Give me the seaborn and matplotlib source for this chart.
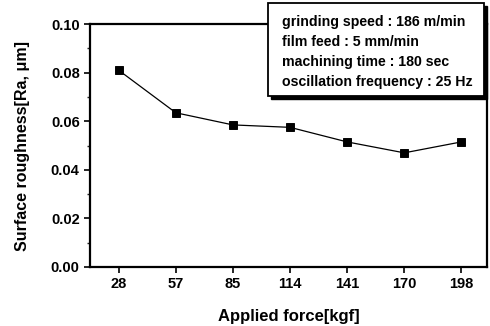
import matplotlib
matplotlib.use("Agg")
import matplotlib.pyplot as plt
import seaborn as sns
import pandas as pd
from matplotlib.patches import Rectangle
from matplotlib.ticker import MultipleLocator

# data
forces = ["28", "57", "85", "114", "141", "170", "198"]
roughness = [0.081, 0.0635, 0.0585, 0.0575, 0.0515, 0.047, 0.0515]

conditions = ["grinding speed : 186 m/min",
              "film feed : 5 mm/min",
              "machining time : 180 sec",
              "oscillation frequency : 25 Hz"]

df = pd.DataFrame({"force": forces, "ra": roughness})

sns.set_style("ticks")
plt.rcParams["font.family"] = ["Liberation Sans", "DejaVu Sans"]
plt.rcParams["font.weight"] = "bold"
plt.rcParams["text.color"] = "black"
plt.rcParams["axes.labelcolor"] = "black"

W, H = 490, 326
fig = plt.figure(figsize=(W / 100, H / 100), dpi=100)
ax = fig.add_axes([0.184, 0.181, 0.81, 0.745])

sns.pointplot(data=df, x="force", y="ra", color="black", marker="s",
              markersize=6, linewidth=0.9, ax=ax)

ax.set_xlim(-0.5, 6.45)
ax.set_ylim(0, 0.10)
ax.yaxis.set_major_locator(MultipleLocator(0.02))
ax.yaxis.set_minor_locator(MultipleLocator(0.01))
ax.set_yticklabels([f"{v:.2f}" for v in ax.get_yticks()])
ax.tick_params(axis="both", which="major", direction="out", length=4,
               width=1.2, labelsize=10.5, colors="black")
ax.tick_params(axis="y", which="minor", direction="out", length=2, width=1)
for lab in ax.get_xticklabels() + ax.get_yticklabels():
    lab.set_fontweight("bold")

for s in ax.spines.values():
    s.set_linewidth(1.6)
    s.set_color("black")

ax.set_xlabel("Applied force[kgf]", fontsize=12, fontweight="bold", labelpad=12.5)
ax.set_ylabel("Surface roughness[Ra, \u03bcm]", fontsize=11.5, fontweight="bold", labelpad=15)

# condition box (sits over the top of the axes) with a drop shadow
bx, by, bw, bh = 268, 3, 216, 93  # pixels from the top-left
fig.patches.append(Rectangle(((bx + 3) / W, 1 - (by + bh + 3) / H), bw / W, bh / H,
                             transform=fig.transFigure, facecolor="black",
                             edgecolor="black", zorder=5))
fig.patches.append(Rectangle((bx / W, 1 - (by + bh) / H), bw / W, bh / H,
                             transform=fig.transFigure, facecolor="white",
                             edgecolor="black", linewidth=1.3, zorder=6))
for i, line in enumerate(conditions):
    fig.text(282 / W, 1 - (26 + 20 * i) / H, line, fontsize=10.2,
             fontweight="bold", va="baseline", ha="left", zorder=7)

fig.savefig("out.png", dpi=100)
